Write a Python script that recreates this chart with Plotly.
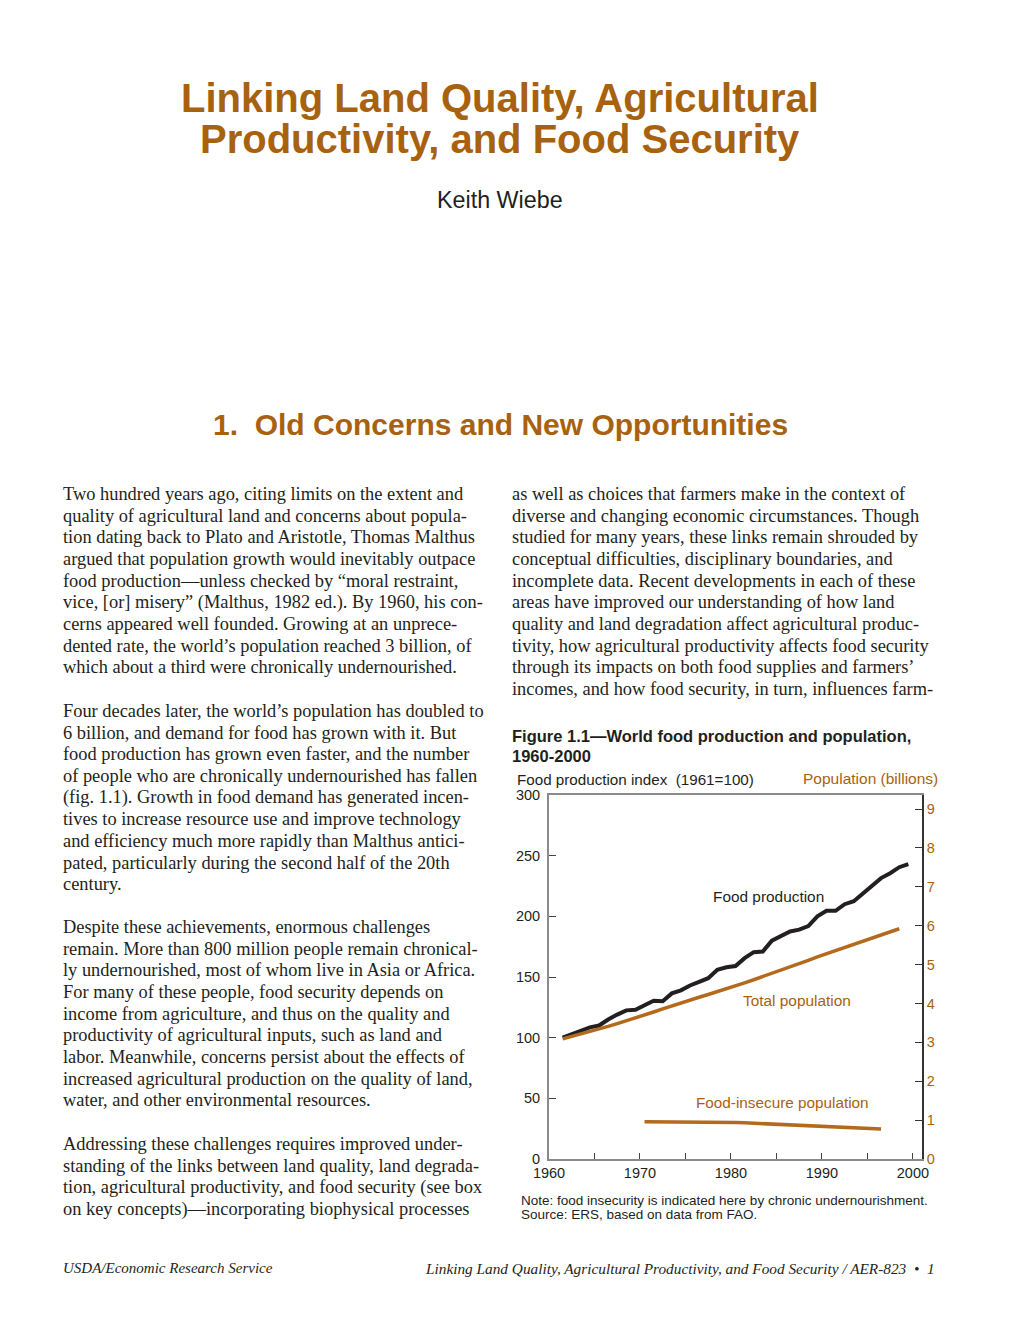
import plotly.graph_objects as go

# ---------------- data ----------------
prod_years = list(range(1961, 2000))
food_production_index = [100, 103, 106, 108.5, 110, 115, 119, 122.5, 123, 127,
                         130.5, 130, 136.5, 139, 143, 146, 149, 156, 158, 159,
                         165.5, 170.5, 171, 180, 183.5, 187.5, 189, 192, 200, 204.5,
                         204.5, 210, 212.5, 219, 224.5, 231.5, 235.5, 240.5, 243]

pop_years = list(range(1961, 1999))
total_population_bn = [3.09, 3.15, 3.22, 3.28, 3.34, 3.41, 3.48, 3.55, 3.63, 3.70,
                       3.78, 3.86, 3.94, 4.02, 4.09, 4.16, 4.23, 4.30, 4.38, 4.45,
                       4.53, 4.61, 4.69, 4.77, 4.85, 4.94, 5.02, 5.11, 5.20, 5.28,
                       5.37, 5.45, 5.53, 5.61, 5.69, 5.77, 5.85, 5.92]

insecure_years = list(range(1970, 1997))
food_insecure_bn = [0.96, 0.96, 0.96, 0.96, 0.95, 0.94, 0.94, 0.94, 0.94, 0.94,
                    0.94, 0.93, 0.92, 0.91, 0.89, 0.88, 0.87, 0.86, 0.85, 0.84,
                    0.83, 0.82, 0.82, 0.81, 0.80, 0.78, 0.77]

x_tick_years = [1960, 1970, 1980, 1990, 2000]
x_minor_years = [1965, 1975, 1985, 1995]
left_ticks = [0, 50, 100, 150, 200, 250, 300]
right_ticks = [0, 1, 2, 3, 4, 5, 6, 7, 8, 9]

title_lines = ["Linking Land Quality, Agricultural", "Productivity, and Food Security"]
author = "Keith Wiebe"
section = "1.  Old Concerns and New Opportunities"

left_paragraphs = [
    ["Two hundred years ago, citing limits on the extent and",
     "quality of agricultural land and concerns about popula-",
     "tion dating back to Plato and Aristotle, Thomas Malthus",
     "argued that population growth would inevitably outpace",
     "food production\u2014unless checked by \u201cmoral restraint,",
     "vice, [or] misery\u201d (Malthus, 1982 ed.). By 1960, his con-",
     "cerns appeared well founded. Growing at an unprece-",
     "dented rate, the world\u2019s population reached 3 billion, of",
     "which about a third were chronically undernourished."],
    ["Four decades later, the world\u2019s population has doubled to",
     "6 billion, and demand for food has grown with it. But",
     "food production has grown even faster, and the number",
     "of people who are chronically undernourished has fallen",
     "(fig. 1.1). Growth in food demand has generated incen-",
     "tives to increase resource use and improve technology",
     "and efficiency much more rapidly than Malthus antici-",
     "pated, particularly during the second half of the 20th",
     "century."],
    ["Despite these achievements, enormous challenges",
     "remain. More than 800 million people remain chronical-",
     "ly undernourished, most of whom live in Asia or Africa.",
     "For many of these people, food security depends on",
     "income from agriculture, and thus on the quality and",
     "productivity of agricultural inputs, such as land and",
     "labor. Meanwhile, concerns persist about the effects of",
     "increased agricultural production on the quality of land,",
     "water, and other environmental resources."],
    ["Addressing these challenges requires improved under-",
     "standing of the links between land quality, land degrada-",
     "tion, agricultural productivity, and food security (see box",
     "on key concepts)\u2014incorporating biophysical processes"],
]
left_par_start = [494, 711, 927, 1144]

right_paragraph = [
    "as well as choices that farmers make in the context of",
    "diverse and changing economic circumstances. Though",
    "studied for many years, these links remain shrouded by",
    "conceptual difficulties, disciplinary boundaries, and",
    "incomplete data. Recent developments in each of these",
    "areas have improved our understanding of how land",
    "quality and land degradation affect agricultural produc-",
    "tivity, how agricultural productivity affects food security",
    "through its impacts on both food supplies and farmers\u2019",
    "incomes, and how food security, in turn, influences farm-",
]

fig_caption = ["Figure 1.1\u2014World food production and population,", "1960-2000"]
notes = ["Note: food insecurity is indicated here by chronic undernourishment.",
         "Source: ERS, based on data from FAO."]
footer_left = "USDA/Economic Research Service"
footer_right = "Linking Land Quality, Agricultural Productivity, and Food Security / AER-823  \u2022  1"

# ---------------- styles ----------------
W, H = 1020, 1320
BROWN = "#a8620f"
LINEBROWN = "#b36a1c"
DARK = "#231f20"
SANS = "Liberation Sans, Arial, sans-serif"
NARROW = "Liberation Sans Narrow, Liberation Sans, Arial, sans-serif"
SERIF = "Liberation Serif, Times New Roman, serif"


def px(x):
    return x / W


def py(y):
    return 1 - y / H


fig = go.Figure()

# lines plotted at mid-year positions
fig.add_trace(go.Scatter(x=[y + 0.5 for y in prod_years], y=food_production_index,
                         mode="lines", line=dict(color=DARK, width=4),
                         name="Food production", yaxis="y"))
fig.add_trace(go.Scatter(x=[y + 0.5 for y in pop_years], y=total_population_bn,
                         mode="lines", line=dict(color=LINEBROWN, width=3.5),
                         name="Total population", yaxis="y2"))
fig.add_trace(go.Scatter(x=[y + 0.5 for y in insecure_years], y=food_insecure_bn,
                         mode="lines", line=dict(color=LINEBROWN, width=3.5),
                         name="Food-insecure population", yaxis="y2"))

ann = []


def text(x, y, s, size, color=DARK, family=SANS, xanchor="left", bold=False, italic=False):
    if bold:
        s = "<b>" + s + "</b>"
    if italic:
        s = "<i>" + s + "</i>"
    ann.append(dict(x=px(x), y=py(y), xref="paper", yref="paper", text=s,
                    showarrow=False, xanchor=xanchor, yanchor="middle",
                    font=dict(size=size, color=color, family=family)))


# title block
text(500, 98, title_lines[0], 40, BROWN, NARROW, "center", bold=True)
text(500, 139, title_lines[1], 40, BROWN, NARROW, "center", bold=True)
text(500, 200, author, 23.3, DARK, NARROW, "center")
text(500, 424, section, 30, BROWN, SANS, "center", bold=True)

LS = 21.68
for start, para in zip(left_par_start, left_paragraphs):
    for i, line in enumerate(para):
        text(61, start + i * LS, line, 18.4, DARK, SERIF)
for i, line in enumerate(right_paragraph):
    text(510, 494 + i * LS, line, 18.4, DARK, SERIF)

# figure caption
text(510, 736, fig_caption[0], 16.5, DARK, SANS, bold=True)
text(510, 756, fig_caption[1], 16.5, DARK, SANS, bold=True)
text(515, 779, "Food production index  (1961=100)", 15.2, DARK, SANS)
text(940, 778, "Population (billions)", 15.5, BROWN, SANS, "right")

# in-chart labels
text(768, 896, "Food production", 15.4, DARK, SANS, "center")
text(797, 1000, "Total population", 15.4, BROWN, SANS, "center")
text(782, 1102, "Food-insecure population", 15.3, BROWN, SANS, "center")

# notes
text(519, 1200, notes[0], 13.5, DARK, SANS)
text(519, 1214, notes[1], 13.5, DARK, SANS)

# footer
text(61, 1268, footer_left, 15, DARK, SERIF, italic=True)
text(937, 1268, footer_right, 15.3, DARK, SERIF, "right", italic=True)

fig.update_layout(
    width=W, height=H, margin=dict(l=0, r=0, t=0, b=0, autoexpand=False),
    paper_bgcolor="white", plot_bgcolor="white", showlegend=False,
    annotations=ann,
    xaxis=dict(domain=[px(549), px(922)], range=[1960, 2001], automargin=False,
               tickvals=x_tick_years, ticktext=[str(v) for v in x_tick_years],
               ticks="inside", ticklen=6, tickwidth=1.2, tickcolor="#444",
               minor=dict(tickvals=x_minor_years, ticks="inside", ticklen=6,
                          tickwidth=1.2, tickcolor="#444"),
               showline=True, linecolor="#8a8a8a", linewidth=2, mirror=True,
               showgrid=False, zeroline=False,
               tickfont=dict(family=SANS, size=14.5, color=DARK)),
    yaxis=dict(domain=[py(1159), py(795)], range=[0, 300], automargin=False,
               tickvals=left_ticks, ticks="inside", ticklen=7, tickwidth=1.2,
               tickcolor="#444", showline=True, linecolor="#8a8a8a", linewidth=2,
               showgrid=False, zeroline=False, ticklabelstandoff=4,
               tickfont=dict(family=SANS, size=14.5, color=DARK)),
    yaxis2=dict(overlaying="y", side="right", range=[0, 9.36], anchor="x",
                automargin=False,
                tickvals=right_ticks, ticks="inside", ticklen=7, tickwidth=1.2,
                tickcolor="#333", showline=True, linecolor="#333", linewidth=1.5,
                showgrid=False, zeroline=False,
                tickfont=dict(family=SANS, size=14.5, color=BROWN)),
)

fig.write_html("out.html", config={"displayModeBar": False},
               post_script="document.body.style.margin='0';document.body.style.overflow='hidden';")
